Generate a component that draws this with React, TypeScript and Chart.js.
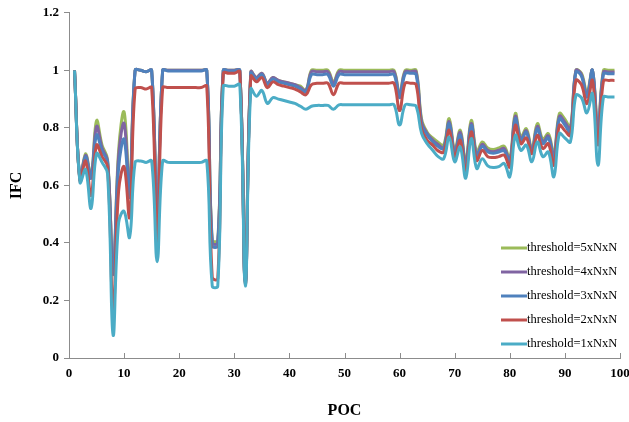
import React, { useEffect, useRef } from 'react';
import { Chart, registerables } from 'chart.js';

Chart.register(...registerables);

// POC index 1..99
const POC: number[] = Array.from({ length: 99 }, (_, i) => i + 1);

const LABELS = ['threshold=5xNxN', 'threshold=4xNxN', 'threshold=3xNxN', 'threshold=2xNxN', 'threshold=1xNxN'];
const COLORS = ['#9BBB59', '#8064A2', '#4F81BD', '#C0504D', '#4BACC6'];

const X_TICKS = [0, 10, 20, 30, 40, 50, 60, 70, 80, 90, 100];
const Y_TICKS = [0, 0.2, 0.4, 0.6, 0.8, 1, 1.2];

const T5: number[] = [
  1.0, 0.62, 0.71, 0.635, 0.825, 0.74, 0.69, 0.30, 0.72, 0.855,
  0.60, 1.0, 1.0, 0.995, 1.0, 0.49, 1.0, 1.0, 1.0, 1.0,
  1.0, 1.0, 1.0, 1.0, 1.0, 0.41, 0.41, 1.0, 1.0, 1.0,
  1.0, 0.27, 0.995, 0.975, 0.99, 0.955, 0.975, 0.965, 0.96, 0.955,
  0.95, 0.945, 0.93, 1.0, 1.0, 1.0, 1.0, 0.96, 1.0, 1.0,
  1.0, 1.0, 1.0, 1.0, 1.0, 1.0, 1.0, 1.0, 1.0, 0.92,
  1.0, 1.0, 1.0, 0.83, 0.785, 0.765, 0.75, 0.74, 0.832, 0.722,
  0.792, 0.685, 0.826, 0.716, 0.751, 0.73, 0.725, 0.73, 0.736, 0.693,
  0.85, 0.768, 0.797, 0.728, 0.815, 0.76, 0.78, 0.71, 0.85, 0.83,
  0.803, 1.0, 0.99, 0.925, 1.0, 0.80, 1.0, 1.0, 1.0,
];
const T4: number[] = [
  1.0, 0.62, 0.705, 0.63, 0.805, 0.73, 0.685, 0.295, 0.70, 0.815,
  0.58, 1.0, 1.0, 0.995, 1.0, 0.48, 1.0, 1.0, 1.0, 1.0,
  1.0, 1.0, 1.0, 1.0, 1.0, 0.40, 0.40, 1.0, 1.0, 1.0,
  1.0, 0.265, 0.995, 0.975, 0.99, 0.955, 0.975, 0.965, 0.96, 0.955,
  0.95, 0.94, 0.93, 0.995, 0.995, 0.995, 0.995, 0.955, 0.995, 0.995,
  0.995, 0.995, 0.995, 0.995, 0.995, 0.995, 0.995, 0.995, 0.995, 0.915,
  0.995, 0.995, 0.995, 0.82, 0.78, 0.758, 0.742, 0.73, 0.822, 0.715,
  0.785, 0.675, 0.815, 0.705, 0.743, 0.722, 0.717, 0.722, 0.728, 0.685,
  0.84, 0.76, 0.79, 0.72, 0.805, 0.752, 0.772, 0.70, 0.84, 0.82,
  0.795, 1.0, 0.985, 0.915, 1.0, 0.79, 0.994, 0.994, 0.994,
];
const T3: number[] = [
  1.0, 0.62, 0.70, 0.625, 0.775, 0.72, 0.68, 0.29, 0.66, 0.76,
  0.56, 1.0, 1.0, 0.995, 1.0, 0.47, 1.0, 0.998, 0.998, 0.998,
  0.998, 0.998, 0.998, 0.998, 1.0, 0.39, 0.39, 1.0, 0.998, 0.998,
  1.0, 0.26, 0.99, 0.97, 0.985, 0.95, 0.97, 0.96, 0.955, 0.95,
  0.945, 0.935, 0.925, 0.985, 0.985, 0.985, 0.985, 0.945, 0.985, 0.985,
  0.985, 0.985, 0.985, 0.985, 0.985, 0.985, 0.985, 0.985, 0.985, 0.905,
  0.988, 0.99, 0.985, 0.81, 0.775, 0.752, 0.735, 0.728, 0.815, 0.71,
  0.775, 0.668, 0.809, 0.70, 0.736, 0.716, 0.712, 0.716, 0.72, 0.678,
  0.832, 0.755, 0.785, 0.715, 0.797, 0.745, 0.765, 0.693, 0.832, 0.81,
  0.785, 0.994, 0.98, 0.907, 1.0, 0.77, 0.988, 0.988, 0.988,
];
const T2: number[] = [
  1.0, 0.615, 0.685, 0.565, 0.74, 0.70, 0.665, 0.16, 0.58, 0.665,
  0.49, 0.935, 0.94, 0.935, 0.94, 0.40, 0.94, 0.94, 0.94, 0.94,
  0.94, 0.94, 0.94, 0.94, 0.945, 0.28, 0.275, 0.99, 0.99, 0.99,
  0.995, 0.255, 0.98, 0.96, 0.975, 0.94, 0.96, 0.95, 0.945, 0.94,
  0.935, 0.925, 0.915, 0.95, 0.955, 0.955, 0.955, 0.915, 0.955, 0.955,
  0.955, 0.955, 0.955, 0.955, 0.955, 0.955, 0.955, 0.955, 0.955, 0.86,
  0.955, 0.955, 0.95, 0.795, 0.757, 0.74, 0.72, 0.716, 0.792, 0.699,
  0.757, 0.65, 0.786, 0.687, 0.722, 0.70, 0.697, 0.70, 0.705, 0.664,
  0.809, 0.745, 0.765, 0.71, 0.774, 0.728, 0.745, 0.67, 0.809, 0.79,
  0.774, 0.965, 0.95, 0.884, 0.965, 0.74, 0.963, 0.965, 0.965,
];
const T1: number[] = [
  1.0, 0.61, 0.655, 0.52, 0.71, 0.68, 0.64, 0.08, 0.47, 0.51,
  0.42, 0.68, 0.685, 0.68, 0.685, 0.335, 0.685, 0.68, 0.68, 0.68,
  0.68, 0.68, 0.68, 0.68, 0.685, 0.25, 0.25, 0.945, 0.945, 0.945,
  0.95, 0.25, 0.935, 0.91, 0.93, 0.885, 0.905, 0.90, 0.895, 0.89,
  0.885, 0.875, 0.865, 0.875, 0.878, 0.878, 0.878, 0.865, 0.88, 0.88,
  0.88, 0.88, 0.88, 0.88, 0.88, 0.88, 0.88, 0.88, 0.88, 0.81,
  0.88, 0.88, 0.875, 0.78, 0.745, 0.722, 0.70, 0.693, 0.768, 0.682,
  0.734, 0.625, 0.763, 0.659, 0.693, 0.668, 0.662, 0.665, 0.676, 0.63,
  0.774, 0.722, 0.74, 0.682, 0.751, 0.70, 0.716, 0.63, 0.78, 0.765,
  0.751, 0.913, 0.905, 0.852, 0.919, 0.67, 0.907, 0.907, 0.907,
];

const SERIES = [T5, T4, T3, T2, T1];
const FONT = '"Liberation Serif", "Times New Roman", serif';
const AXIS_COLOR = '#8C8C8C';

const insideTicks = {
  id: 'insideTicks',
  afterDraw(chart: any) {
    const { ctx, chartArea, scales } = chart;
    const xs = scales.x;
    ctx.save();
    ctx.strokeStyle = AXIS_COLOR;
    ctx.lineWidth = 1;
    X_TICKS.forEach((v) => {
      if (v === 0) return;
      const px = Math.round(xs.getPixelForValue(v)) + 0.5;
      ctx.beginPath();
      ctx.moveTo(px, chartArea.bottom);
      ctx.lineTo(px, chartArea.bottom - 5);
      ctx.stroke();
    });
    ctx.restore();
  },
};

const insideLegend = {
  id: 'insideLegend',
  afterDraw(chart: any) {
    const { ctx, chartArea } = chart;
    ctx.save();
    ctx.font = `12.5px ${FONT}`;
    ctx.textBaseline = 'middle';
    ctx.textAlign = 'left';
    chart.data.datasets.forEach((ds: any, i: number) => {
      const y = chartArea.bottom - 110 + i * 24;
      const x0 = chartArea.right - 119;
      ctx.strokeStyle = ds.borderColor;
      ctx.lineWidth = 3;
      ctx.beginPath();
      ctx.moveTo(x0, y);
      ctx.lineTo(x0 + 26, y);
      ctx.stroke();
      ctx.fillStyle = '#000';
      ctx.fillText(ds.label, x0 + 26, y);
    });
    ctx.restore();
  },
};

export default function App() {
  const ref = useRef<HTMLCanvasElement | null>(null);

  useEffect(() => {
    if (!ref.current) return;
    const datasets = LABELS.map((label, i) => ({
      label,
      data: POC.map((p, j) => ({ x: p, y: SERIES[i][j] })),
      borderColor: COLORS[i],
      backgroundColor: COLORS[i],
      borderWidth: 3,
      pointRadius: 0,
      tension: 0.4,
      fill: false,
      order: LABELS.length - i,
    }));
    const chart = new Chart(ref.current, {
      type: 'line',
      data: { datasets },
      options: {
        responsive: false,
        animation: false,
        layout: { padding: { top: 12, right: 9, left: 0, bottom: 0 } },
        plugins: { legend: { display: false }, tooltip: { enabled: false } },
        scales: {
          x: {
            type: 'linear',
            min: 0,
            max: 100,
            afterFit: (s: any) => { s.height = 64; s.paddingRight = 0; s.paddingLeft = 0; },
            afterBuildTicks: (s: any) => { s.ticks = X_TICKS.map((v) => ({ value: v })); },
            ticks: {
              color: '#000',
              font: { family: FONT, size: 13, weight: 'bold' },
              padding: 8,
              maxRotation: 0,
              autoSkip: false,
            },
            grid: { drawOnChartArea: false, drawTicks: false },
            border: { display: true, color: AXIS_COLOR, width: 1 },
            title: {
              display: true,
              text: 'POC',
              color: '#000',
              font: { family: FONT, size: 16, weight: 'bold' },
              padding: { top: 0, bottom: 2 },
            },
          },
          y: {
            type: 'linear',
            min: 0,
            max: 1.2,
            afterFit: (s: any) => { s.width = 69; },
            afterBuildTicks: (s: any) => { s.ticks = Y_TICKS.map((v) => ({ value: v })); },
            ticks: {
              color: '#000',
              font: { family: FONT, size: 13, weight: 'bold' },
              padding: 5,
              callback: (v: any) => String(Math.round(Number(v) * 10) / 10),
            },
            grid: { drawOnChartArea: false, drawTicks: true, tickLength: 5, color: AXIS_COLOR },
            border: { display: true, color: AXIS_COLOR, width: 1 },
            title: {
              display: true,
              text: 'IFC',
              color: '#000',
              font: { family: FONT, size: 16, weight: 'bold' },
              padding: { top: 7, bottom: 0 },
            },
          },
        },
      },
      plugins: [insideTicks, insideLegend],
    });
    return () => chart.destroy();
  }, []);

  return (
    <div style={{ position: 'absolute', left: 0, top: 0, width: 629, height: 422, background: '#fff' }}>
      <canvas ref={ref} width={629} height={422} style={{ display: 'block' }} />
    </div>
  );
}
